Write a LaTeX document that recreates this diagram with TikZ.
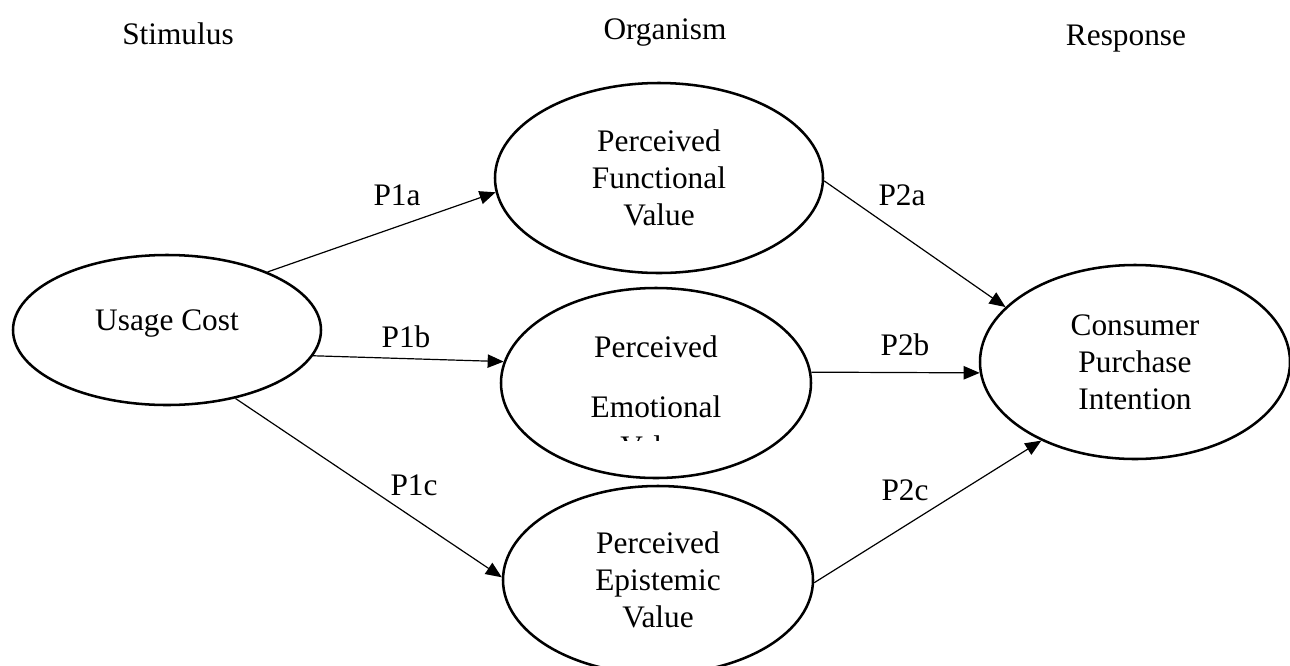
\documentclass[tikz,border=0pt]{standalone}
\usepackage{fontspec}
\setmainfont{Liberation Serif}
\usetikzlibrary{shapes.geometric,arrows.meta}
\begin{document}
\begin{tikzpicture}[x=0.75pt, y=-0.75pt,
        var/.style = {ellipse, draw, line width=1.9pt, inner sep=0pt, align=center},
        lbl/.style = {anchor=base, inner sep=0pt},
        link/.style = {-{Triangle[length=12pt,width=10pt]}, line width=0.9pt},
        every node/.append style = {font=\fontsize{23.5}{27.75}\selectfont}
    ]
    \useasboundingbox (0,0) rectangle (1290,665);
    % stages
    \node[lbl] (stim) at (178,44) {Stimulus};
    \node[lbl] (org) at (665,39) {Organism};
    \node[lbl] (resp) at (1126,45) {Response};
    % variables
    \node[var, minimum width=231pt, minimum height=112.5pt, text depth=15.5pt] (cost) at (167,330) {Usage Cost};
    \node[var, minimum width=246pt, minimum height=142.5pt] (func) at (659,178) {Perceived\\Functional\\Value};
    \node[var, minimum width=232.5pt, minimum height=142.5pt] (emo) at (656,383) {};
    \node[lbl] (emotop) at (656,357) {Perceived};
    \node[lbl] (emomid) at (656,417) {Emotional};
    \begin{scope}
        \clip (500,300) rectangle (812,440);
        \node[lbl] (emoval) at (656,457) {Value};
    \end{scope}
    \node[var, minimum width=232.5pt, minimum height=141pt] (epis) at (658,580) {Perceived\\Epistemic\\Value};
    \node[var, minimum width=232.5pt, minimum height=145.5pt] (intent) at (1135,362) {Consumer\\Purchase\\Intention};
    % paths
    \draw[link] (cost.30) -- (func.185);
    \draw[link] (cost.-10) -- (emo.172);
    \draw[link] (cost.-45) -- (epis.179);
    \draw[link] (func.-1) -- (intent.157);
    \draw[link] (emo.4) -- (intent.184);
    \draw[link] (epis.-1) -- (intent.220);
    \node[lbl] (p1a) at (397,205) {P1a};
    \node[lbl] (p1b) at (406,347) {P1b};
    \node[lbl] (p1c) at (414,495) {P1c};
    \node[lbl] (p2a) at (902,205) {P2a};
    \node[lbl] (p2b) at (905,355) {P2b};
    \node[lbl] (p2c) at (905,500) {P2c};
\end{tikzpicture}
\end{document}
